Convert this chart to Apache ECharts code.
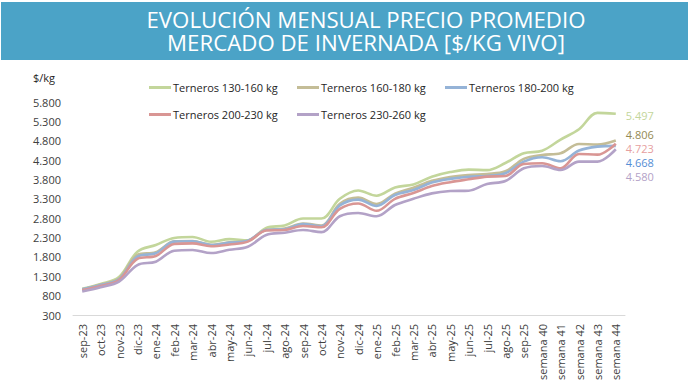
<!DOCTYPE html>
<html>
<head>
<meta charset="utf-8">
<script src="https://cdn.jsdelivr.net/npm/echarts@6/dist/echarts.min.js"></script>
<style>
html,body{margin:0;padding:0;background:#fff;}
#chart{width:692px;height:389px;}
</style>
</head>
<body>
<div id="chart"></div>
<script>
const categories = ["sep-23","oct-23","nov-23","dic-23","ene-24","feb-24","mar-24","abr-24","may-24","jun-24","jul-24","ago-24","sep-24","oct-24","nov-24","dic-24","ene-25","feb-25","mar-25","abr-25","may-25","jun-25","jul-25","ago-25","sep-25","semana 40","semana 41","semana 42","semana 43","semana 44"];

const terneros130_160 = [975,1100,1280,1935,2108,2290,2315,2190,2258,2230,2550,2610,2790,2790,3300,3515,3380,3595,3670,3870,3990,4055,4040,4225,4476,4540,4830,5096,5520,5497];
const terneros160_180 = [960,1085,1240,1850,1920,2200,2210,2115,2175,2215,2500,2530,2660,2610,3170,3330,3167,3435,3585,3765,3865,3916,3942,4010,4330,4433,4476,4717,4700,4806];
const terneros180_200 = [964,1075,1222,1806,1893,2194,2205,2108,2168,2220,2495,2513,2650,2590,3130,3280,3115,3400,3525,3720,3815,3870,3890,3960,4260,4373,4270,4546,4648,4668];
const terneros200_230 = [946,1050,1204,1750,1824,2134,2150,2075,2120,2194,2480,2495,2600,2565,3040,3180,2990,3300,3450,3630,3730,3805,3873,3890,4200,4218,4088,4459,4440,4723];
const terneros230_260 = [905,1015,1160,1590,1677,1961,1980,1900,1985,2064,2366,2426,2495,2440,2850,2935,2850,3140,3300,3440,3500,3510,3684,3760,4088,4149,4045,4260,4260,4580];

const seriesNames = ["Terneros 130-160 kg","Terneros 160-180 kg","Terneros 180-200 kg","Terneros 200-230 kg","Terneros 230-260 kg"];
const seriesValues = [terneros130_160, terneros160_180, terneros180_200, terneros200_230, terneros230_260];

const titleText = "EVOLUCIÓN MENSUAL PRECIO PROMEDIO\nMERCADO DE INVERNADA [$/KG VIVO]";
const yAxisName = "$/kg";

// styles
const lineColors = ["#C3D69B","#C4BD97","#95B3D7","#D99694","#B3A2C7"];
const endLabelColors = ["#C3D69B","#948A54","#558ED5","#E6A0A0","#B3A2C7"];
const endLabelOffsets = [2, -6, 17, 5, 27.5];
const legendPos = [[144,77],[292,77],[440,77],[144,104],[292,104]];

function fmt(v){
  if (v >= 1000) {
    const s = String(Math.round(v));
    return s.slice(0, s.length-3) + "." + s.slice(s.length-3);
  }
  return String(v);
}

const FONT = "'Open Sans', 'Noto Sans', sans-serif";

const chart = echarts.init(document.getElementById('chart'), null, {renderer:'svg'});

const series = seriesNames.map((name, i) => ({
  name: name,
  type: 'line',
  data: seriesValues[i],
  smooth: 0.35,
  showSymbol: false,
  symbol: 'none',
  lineStyle: {width: 2.6, color: lineColors[i]},
  itemStyle: {color: lineColors[i]},
  emphasis: {disabled: true},
  endLabel: {
    show: true,
    distance: 10,
    offset: [0, endLabelOffsets[i]],
    formatter: p => fmt(p.value),
    color: endLabelColors[i],
    fontSize: 11,
    lineHeight: 11,
    fontFamily: FONT
  },
  z: 2 + i
}));

const legends = seriesNames.map((name, i) => ({
  data: [name],
  left: legendPos[i][0],
  top: legendPos[i][1],
  icon: 'rect',
  itemWidth: 22,
  itemHeight: 3,
  itemGap: 0,
  textStyle: {fontSize: 11, color: '#262626', fontFamily: FONT, padding: [0,0,0,-3]},
  selectedMode: false
}));

const option = {
  backgroundColor: '#ffffff',
  animation: false,
  graphic: [
    {type: 'rect', shape: {x: 1, y: 2, width: 687, height: 58}, style: {fill: '#4BA3C7'}, z: 0},
    {type: 'text', x: 366, y: 31, scaleX: 1.06, originX: 0, originY: 0,
     style: {text: titleText, x: 0, y: 0, textAlign: 'center', textVerticalAlign: 'middle', lineHeight: 23, fill: '#ffffff', fontSize: 21, fontFamily: FONT}, z: 1},
    {type: 'text', style: {text: yAxisName, x: 33, y: 77, textVerticalAlign: 'middle', fill: '#262626', fontSize: 11, fontFamily: FONT}, z: 1}
  ],
  legend: legends,
  grid: {left: 73, right: 67, top: 102, bottom: 74, containLabel: false},
  xAxis: {
    type: 'category',
    data: categories,
    boundaryGap: true,
    axisLine: {show: true, lineStyle: {color: '#D9D9D9', width: 1}},
    axisTick: {show: false},
    axisLabel: {rotate: 90, interval: 0, margin: 9, fontSize: 11, color: '#404040', fontFamily: FONT},
    splitLine: {show: false}
  },
  yAxis: {
    type: 'value',
    min: 300,
    max: 5800,
    interval: 500,
    axisLine: {show: false},
    axisTick: {show: false},
    splitLine: {show: false},
    axisLabel: {margin: 12, fontSize: 11, color: '#404040', fontFamily: FONT, formatter: v => fmt(v)}
  },
  series: series
};

chart.setOption(option);
</script>
</body>
</html>
